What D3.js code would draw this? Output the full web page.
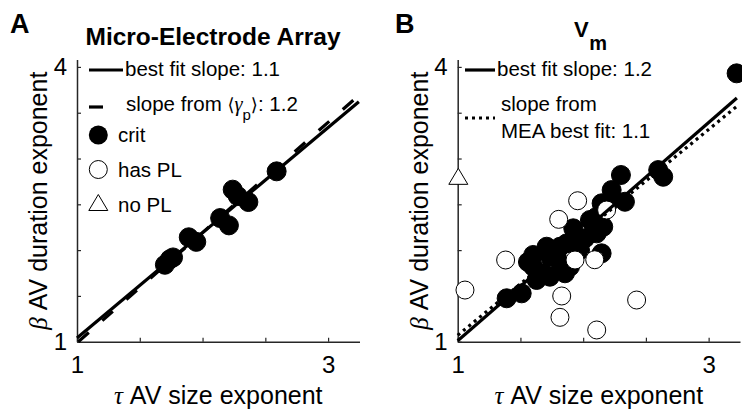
<!DOCTYPE html>
<html>
<head>
<meta charset="utf-8">
<script src="https://cdn.jsdelivr.net/npm/d3@7"></script>
<style>
body { margin: 0; background: #fff; }
svg { font-family: "Liberation Sans", Arial, sans-serif; }
</style>
</head>
<body>
<svg width="742" height="412"></svg>
<script>
var xTicks = [1, 1.5, 2, 2.5, 3],
    xTickLabels = ["1", "", "", "", "3"],
    yTicks = [1, 1.5, 2, 2.5, 3, 3.5, 4],
    yTickLabels = ["1", "", "", "", "", "", "4"];

// panel A: micro-electrode array, all critical
var meaTau  = [1.70, 1.74, 1.765, 1.89, 1.95, 2.14, 2.21, 2.24, 2.28, 2.365, 2.59],
    meaBeta = [1.84, 1.90, 1.92, 2.14, 2.09, 2.35, 2.27, 2.66, 2.59, 2.525, 2.86];

// panel B: Vm recordings
var vmCritTau  = [3.223, 2.598, 2.638, 2.301, 2.227, 2.147, 2.333, 2.200, 2.108, 2.054, 2.160, 1.921, 2.108, 1.869, 1.975, 2.147,
                  1.815, 1.709, 1.602, 1.789, 1.602, 1.682, 1.815, 1.895, 1.629, 1.735, 1.855, 1.390, 1.510, 1.735, 1.56, 2.015],
    vmCritBeta = [3.930, 2.874, 2.801, 2.820, 2.656, 2.511, 2.528, 2.511, 2.365, 2.329, 2.255, 2.238, 2.183, 2.074, 2.001, 1.965,
                  2.037, 2.037, 1.947, 1.928, 1.819, 1.747, 1.783, 1.819, 1.674, 1.710, 1.747, 1.474, 1.528, 1.928, 1.87, 2.13];
var vmPlTau  = [1.956, 1.805, 2.187, 1.382, 1.935, 2.092, 1.058, 1.829, 1.815, 2.108, 2.426],
    vmPlBeta = [2.539, 2.336, 2.438, 1.892, 1.892, 1.895, 1.564, 1.499, 1.266, 1.128, 1.455];
var vmNoPlTau = [1.005],
    vmNoPlBeta = [2.80];

// fit lines, [start, end]
var meaFitTau = [1, 3.245], meaFitBeta = [1.04, 3.62];
var meaGammaTau = [1.01, 3.245], meaGammaBeta = [1.0, 3.69];
var vmFitTau = [1, 3.225], vmFitBeta = [1.01, 3.66];
var vmMeaTau = [1, 3.225], vmMeaBeta = [1.07, 3.57];

var svg = d3.select("svg");
var axisColor = "#262626";

var y = d3.scaleLinear().domain([1, 4.08]).range([341.7, 59.6]);
var xA = d3.scaleLinear().domain([1, 3.25]).range([77, 359.5]);
var xB = d3.scaleLinear().domain([1, 3.25]).range([457.7, 740]);

function drawAxes(x) {
    var gx = svg.append("g")
        .attr("transform", "translate(0," + y(1) + ")")
        .call(d3.axisBottom(x).tickValues(xTicks)
            .tickFormat(function(d, i) { return xTickLabels[i]; })
            .tickSizeInner(-4).tickSizeOuter(0).tickPadding(14));
    var gy = svg.append("g")
        .attr("transform", "translate(" + x(1) + ",0)")
        .call(d3.axisLeft(y).tickValues(yTicks)
            .tickFormat(function(d, i) { return yTickLabels[i]; })
            .tickSizeInner(-4).tickSizeOuter(0).tickPadding(10));
    [gx, gy].forEach(function(g) {
        g.attr("font-family", null).attr("font-size", null);
        g.select(".domain").attr("stroke", axisColor).attr("stroke-width", 1.5);
        g.selectAll(".tick line").attr("stroke", axisColor).attr("stroke-width", 1.2);
        g.selectAll(".tick text").attr("fill", "#000").style("font-size", "24px");
    });

    var cx = (x.range()[0] + x.range()[1]) / 2;
    var xl = svg.append("text")
        .attr("x", cx).attr("y", 404)
        .attr("text-anchor", "middle")
        .style("font-size", "25px");
    xl.append("tspan").attr("font-family", "Liberation Serif, serif").attr("font-style", "italic").text("\u03C4");
    xl.append("tspan").text(" AV size exponent");

    var yl = svg.append("text")
        .attr("transform", "translate(" + (x(1) - 30) + "," + ((y.range()[0] + y.range()[1]) / 2) + ") rotate(-90)")
        .attr("text-anchor", "middle")
        .style("font-size", "25px");
    yl.append("tspan").attr("font-family", "Liberation Serif, serif").attr("font-style", "italic").text("\u03B2");
    yl.append("tspan").text(" AV duration exponent");
}

function fitLine(x, tau, beta, dash) {
    svg.append("line")
        .attr("x1", x(tau[0])).attr("y1", y(beta[0]))
        .attr("x2", x(tau[1])).attr("y2", y(beta[1]))
        .attr("stroke", "#000").attr("stroke-width", 3.2)
        .attr("stroke-dasharray", dash || null);
}

function dots(x, tau, beta, fill, r) {
    svg.append("g").selectAll("circle")
        .data(tau)
        .join("circle")
        .attr("cx", function(d) { return x(d); })
        .attr("cy", function(d, i) { return y(beta[i]); })
        .attr("r", r)
        .attr("fill", fill)
        .attr("stroke", "#000")
        .attr("stroke-width", 1);
}

function triangle(px, py) {
    return "M" + (px - 9.5) + "," + (py + 7.5) + "L" + px + "," + (py - 8.5) + "L" + (px + 9.5) + "," + (py + 7.5) + "Z";
}

// ---- panel A ----
drawAxes(xA);
dots(xA, meaTau, meaBeta, "#000", 9.5);
fitLine(xA, meaGammaTau, meaGammaBeta, "14,18");
fitLine(xA, meaFitTau, meaFitBeta);

svg.append("text").attr("x", 10).attr("y", 33)
    .attr("font-weight", "bold").style("font-size", "27px").text("A");
svg.append("text").attr("x", 213).attr("y", 44.5)
    .attr("text-anchor", "middle").attr("font-weight", "bold")
    .style("font-size", "24.5px").text("Micro-Electrode Array");

var legA = svg.append("g").style("font-size", "20.5px");
legA.append("line").attr("x1", 89).attr("x2", 123).attr("y1", 70).attr("y2", 70)
    .attr("stroke", "#000").attr("stroke-width", 3.2);
legA.append("text").attr("x", 125).attr("y", 76).text("best fit slope: 1.1");
legA.append("line").attr("x1", 89).attr("x2", 103).attr("y1", 107).attr("y2", 107)
    .attr("stroke", "#000").attr("stroke-width", 3.2);
var gt = legA.append("text").attr("x", 126).attr("y", 111);
gt.append("tspan").text("slope from ");
gt.append("tspan").attr("font-family", "DejaVu Sans").style("font-size", "18px").text("\u27E8");
gt.append("tspan").attr("font-family", "Liberation Serif, serif").attr("font-style", "italic").text("\u03B3");
gt.append("tspan").attr("dy", 9).style("font-size", "15px").text("p");
gt.append("tspan").attr("dy", -9).attr("font-family", "DejaVu Sans").style("font-size", "18px").text("\u27E9");
gt.append("tspan").text(": 1.2");
legA.append("circle").attr("cx", 98.3).attr("cy", 135).attr("r", 9.5).attr("fill", "#000");
legA.append("text").attr("x", 118).attr("y", 142).text("crit");
legA.append("circle").attr("cx", 98.3).attr("cy", 169.5).attr("r", 9)
    .attr("fill", "#fff").attr("stroke", "#000").attr("stroke-width", 1);
legA.append("text").attr("x", 118).attr("y", 177).text("has PL");
legA.append("path").attr("d", triangle(98.3, 203))
    .attr("fill", "#fff").attr("stroke", "#000").attr("stroke-width", 1);
legA.append("text").attr("x", 118).attr("y", 212).text("no PL");

// ---- panel B ----
drawAxes(xB);
dots(xB, vmCritTau, vmCritBeta, "#000", 9.5);
dots(xB, vmPlTau, vmPlBeta, "#fff", 9);
svg.append("g").selectAll("path")
    .data(vmNoPlTau)
    .join("path")
    .attr("d", function(d, i) { return triangle(xB(d), y(vmNoPlBeta[i])); })
    .attr("fill", "#fff").attr("stroke", "#000").attr("stroke-width", 1);
fitLine(xB, vmMeaTau, vmMeaBeta, "3,4");
fitLine(xB, vmFitTau, vmFitBeta);

svg.append("text").attr("x", 395).attr("y", 33)
    .attr("font-weight", "bold").style("font-size", "27px").text("B");
var vt = svg.append("text").attr("x", 574).attr("y", 37)
    .attr("font-weight", "bold").style("font-size", "22px");
vt.append("tspan").text("V");
vt.append("tspan").attr("dx", 0.5).attr("dy", 13).style("font-size", "20px").text("m");

var legB = svg.append("g").style("font-size", "20.5px");
legB.append("line").attr("x1", 465).attr("x2", 495).attr("y1", 70).attr("y2", 70)
    .attr("stroke", "#000").attr("stroke-width", 3.2);
legB.append("text").attr("x", 497).attr("y", 76).text("best fit slope: 1.2");
legB.append("line").attr("x1", 465).attr("x2", 495).attr("y1", 118).attr("y2", 118)
    .attr("stroke", "#000").attr("stroke-width", 3.2).attr("stroke-dasharray", "3,4");
legB.append("text").attr("x", 501).attr("y", 111).text("slope from");
legB.append("text").attr("x", 501).attr("y", 138).text("MEA best fit: 1.1");
</script>
</body>
</html>
